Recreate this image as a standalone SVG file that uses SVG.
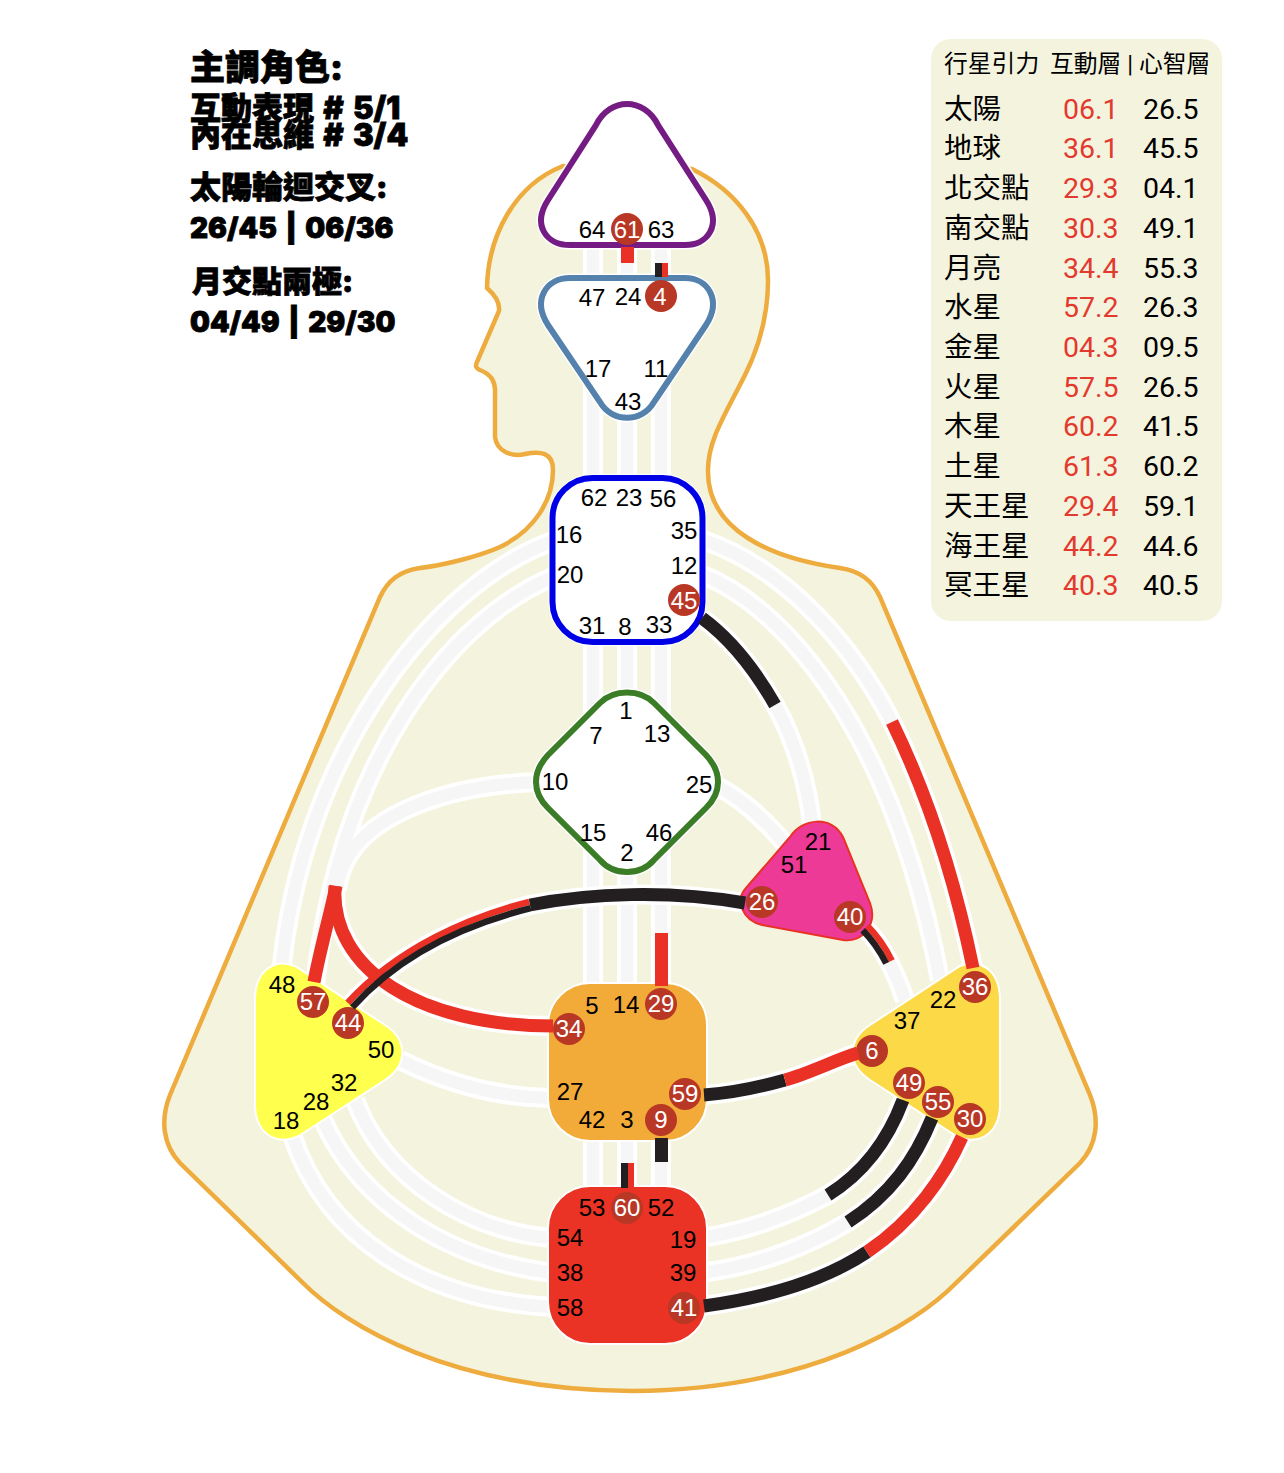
<svg xmlns="http://www.w3.org/2000/svg" width="1284" height="1473" viewBox="0 0 1284 1473">
<style>
.o{fill:none;stroke:#fff;stroke-width:20}
.g{fill:none;stroke:#f6f6f7;stroke-width:12.5}
.r{fill:none;stroke:#e93225;stroke-width:13}
.k{fill:none;stroke:#231f20;stroke-width:13}
.rh{fill:none;stroke:#e93225;stroke-width:6.5}
.kh{fill:none;stroke:#231f20;stroke-width:6.5}
text{font-family:"Liberation Sans","Noto Sans CJK TC",sans-serif}
.n{font-size:24px;fill:#000;text-anchor:middle}
.w{font-size:24px;fill:#fff;text-anchor:middle}
.d{fill:#b93825}
.h{font-family:Inter,"Noto Sans CJK TC",sans-serif;font-weight:900;fill:#000;stroke:#000;stroke-width:.8;word-spacing:3px}
.t{font-family:Roboto,"Noto Sans CJK TC",sans-serif;font-size:28.5px;fill:#000}
.tr{font-family:Roboto,"Noto Sans CJK TC",sans-serif;font-size:28.5px;fill:#e23a2e}
.th{font-family:Roboto,"Noto Sans CJK TC",sans-serif;font-size:23.8px;fill:#000}
</style>
<defs>
<path id="a" d="M553,541C430,585 300,760 281,975"/>
<path id="b" d="M553,577C450,620 340,760 315,985"/>
<path id="c" d="M538,782C450,785 345,815 337,890"/>
<path id="d" d="M335,886C330,970 420,1026 553,1026"/>
<path id="e" d="M350,1005C400,950 470,920 530,905C590,893 670,890 745,903"/>
<path id="f" d="M703,540C790,570 855,650 892,722C930,800 955,880 973,968"/>
<path id="h" d="M703,575C790,610 895,740 940,980"/>
<path id="i" d="M702,618C732,640 755,670 775,705C795,740 808,785 812,825"/>
<path id="j" d="M715,785C745,800 770,825 790,850"/>
<path id="k" d="M865,928C875,938 883,950 889,962C896,975 900,985 905,1000"/>
<path id="l" d="M400,1060C450,1085 500,1097 550,1098"/>
<path id="m" d="M355,1100C385,1180 470,1232 552,1238"/>
<path id="n" d="M322,1118C360,1205 450,1260 552,1273"/>
<path id="p" d="M292,1135C325,1235 420,1300 552,1307"/>
<path id="q" d="M703,1095C735,1093 760,1087 785,1080C810,1073 835,1060 858,1053"/>
<path id="s" d="M703,1306C770,1297 825,1280 867,1252C915,1220 945,1175 962,1137"/>
<path id="u" d="M707,1272C760,1265 810,1245 848,1222C890,1195 915,1160 932,1118"/>
<path id="v" d="M707,1237C750,1230 790,1215 828,1195C865,1172 888,1140 903,1100"/>
<path id="x" d="M593,240V1200"/>
<path id="y" d="M627,240V1200"/>
<path id="z" d="M661,240V1200"/>
<path id="pH" d="M596,125C610,97 644,97 658,125L706,200C722,225 708,245 685,245L570,245C546,245 532,225 548,200Z"/>
<path id="pA" d="M570,278L685,278C708,278 722,300 706,325L654,402C642,423 612,423 600,402L548,325C532,300 546,278 570,278Z"/>
<path id="pG" d="M600,703C614,689 640,689 654,703L706,755C722,772 722,792 706,808L654,860C640,876 614,876 600,860L548,808C532,792 532,772 548,755Z"/>
</defs>
<path id="body" d="M563,166C515,185 488,235 487,288C495,295 500,303 499,311L477,362Q474,368 480,370C490,374 496,380 495,395L495,437C497,452 512,457 525,454C540,451 553,452 553,470C553,500 535,530 500,547C480,556 445,565 420,568C400,571 388,580 380,597L170,1095C160,1120 163,1145 180,1163L303,1283C345,1325 450,1390 632,1391C810,1390 915,1325 956,1283L1080,1163C1097,1145 1100,1120 1090,1095L880,597C872,580 860,571 840,568C770,558 707,530 708,470C708,440 725,415 745,375C760,345 768,315 768,280C768,230 735,190 692,169Z" fill="#f4f3dd" stroke="#eeab3e" stroke-width="4.5"/>
<g id="connectors">
<use href="#a" class="o"/><use href="#b" class="o"/><use href="#c" class="o"/><use href="#d" class="o"/><use href="#f" class="o"/><use href="#h" class="o"/><use href="#i" class="o"/><use href="#j" class="o"/><use href="#k" class="o"/><use href="#l" class="o"/><use href="#m" class="o"/><use href="#n" class="o"/><use href="#p" class="o"/><use href="#q" class="o"/><use href="#s" class="o"/><use href="#u" class="o"/><use href="#v" class="o"/><use href="#x" class="o"/><use href="#y" class="o"/><use href="#z" class="o"/>
<use href="#a" class="g"/><use href="#b" class="g"/><use href="#c" class="g"/><use href="#f" class="g"/><use href="#h" class="g"/><use href="#i" class="g"/><use href="#j" class="g"/><use href="#k" class="g"/><use href="#l" class="g"/><use href="#m" class="g"/><use href="#n" class="g"/><use href="#p" class="g"/><use href="#u" class="g"/><use href="#v" class="g"/><use href="#x" class="g"/><use href="#y" class="g"/><use href="#z" class="g"/>
<use href="#e" class="o"/>
</g>
<g id="head"><use href="#pH" fill="#fff" stroke="#fff" stroke-width="9"/><use href="#pH" fill="#fff" stroke="#741b84" stroke-width="6"/>
<circle class="d" cx="627" cy="229" r="16"/><text class="n" x="592" y="238">64</text><text class="w" x="627" y="238">61</text><text class="n" x="661" y="238">63</text></g>
<g id="ajna"><use href="#pA" fill="#fff" stroke="#fff" stroke-width="9"/><use href="#pA" fill="#fff" stroke="#5581ad" stroke-width="6"/>
<circle class="d" cx="661" cy="296" r="16"/><text class="n" x="592" y="306">47</text><text class="n" x="628" y="305">24</text><text class="w" x="660" y="305">4</text><text class="n" x="598" y="377">17</text><text class="n" x="656" y="377">11</text><text class="n" x="628" y="410">43</text></g>
<g id="throat"><rect x="552.5" y="478" width="150" height="164" rx="40" fill="#fff" stroke="#fff" stroke-width="8"/><rect x="552.5" y="478" width="150" height="164" rx="40" fill="#fff" stroke="#0000e6" stroke-width="6"/>
<circle class="d" cx="684" cy="600" r="16"/><text class="n" x="594" y="506">62</text><text class="n" x="629" y="506">23</text><text class="n" x="663" y="507">56</text><text class="n" x="569" y="543">16</text><text class="n" x="684" y="539">35</text><text class="n" x="570" y="583">20</text><text class="n" x="684" y="574">12</text><text class="w" x="684" y="609">45</text><text class="n" x="592" y="634">31</text><text class="n" x="625" y="635">8</text><text class="n" x="659" y="633">33</text></g>
<g id="g-center"><use href="#pG" fill="#fff" stroke="#fff" stroke-width="9"/><use href="#pG" fill="#fff" stroke="#3a7d26" stroke-width="6"/>
<text class="n" x="626" y="719">1</text><text class="n" x="596" y="744">7</text><text class="n" x="657" y="742">13</text><text class="n" x="555" y="790">10</text><text class="n" x="699" y="793">25</text><text class="n" x="593" y="841">15</text><text class="n" x="659" y="841">46</text><text class="n" x="627" y="861">2</text></g>
<g id="heart"><path d="M790,837C802,818 832,815 843,837L870,903C878,925 862,943 843,940L762,925C742,920 735,900 746,888Z" fill="#ec3a96" stroke="#e93225" stroke-width="2"/>
<circle class="d" cx="762" cy="902" r="16"/><circle class="d" cx="850" cy="917" r="16"/><text class="n" x="818" y="850">21</text><text class="n" x="794" y="873">51</text><text class="w" x="762" y="910">26</text><text class="w" x="850" y="925">40</text></g>
<g id="spleen"><path d="M255,1000C255,970 275,958 295,966L385,1025C408,1040 408,1065 385,1080L305,1132C280,1150 255,1135 255,1105Z" fill="#ffff4d" stroke="#fff" stroke-width="2"/>
<circle class="d" cx="313" cy="1002" r="16"/><circle class="d" cx="348" cy="1023" r="16"/><text class="n" x="282" y="993">48</text><text class="w" x="313" y="1010">57</text><text class="w" x="348" y="1031">44</text><text class="n" x="381" y="1058">50</text><text class="n" x="344" y="1091">32</text><text class="n" x="316" y="1110">28</text><text class="n" x="286" y="1129">18</text></g>
<g id="solar-plexus"><path d="M1000,1000C1000,970 980,958 960,966L870,1025C847,1040 847,1065 870,1080L950,1132C975,1150 1000,1135 1000,1105Z" fill="#fbd947" stroke="#fff" stroke-width="2"/>
<circle class="d" cx="975" cy="987" r="16"/><circle class="d" cx="872" cy="1051" r="16"/><circle class="d" cx="909" cy="1083" r="16"/><circle class="d" cx="938" cy="1102" r="16"/><circle class="d" cx="970" cy="1119" r="16"/><text class="w" x="975" y="995">36</text><text class="n" x="943" y="1008">22</text><text class="n" x="907" y="1029">37</text><text class="w" x="872" y="1059">6</text><text class="w" x="909" y="1091">49</text><text class="w" x="938" y="1110">55</text><text class="w" x="970" y="1127">30</text></g>
<g id="sacral"><rect x="548" y="983" width="159" height="158" rx="42" fill="#f2aa38" stroke="#fff" stroke-width="2"/>
<circle class="d" cx="661" cy="1004" r="16"/><circle class="d" cx="569" cy="1029" r="16"/><circle class="d" cx="685" cy="1094" r="16"/><circle class="d" cx="661" cy="1120" r="16"/><text class="n" x="592" y="1014">5</text><text class="n" x="626" y="1013">14</text><text class="w" x="661" y="1012">29</text><text class="w" x="569" y="1037">34</text><text class="n" x="570" y="1100">27</text><text class="w" x="685" y="1102">59</text><text class="n" x="592" y="1128">42</text><text class="n" x="627" y="1128">3</text><text class="w" x="661" y="1128">9</text></g>
<g id="root"><rect x="548" y="1186" width="159" height="158" rx="42" fill="#ea3324" stroke="#fff" stroke-width="2"/>
<circle class="d" cx="627" cy="1208" r="16"/><circle class="d" cx="684" cy="1308" r="16"/><text class="n" x="592" y="1216">53</text><text class="w" x="627" y="1216">60</text><text class="n" x="661" y="1216">52</text><text class="n" x="570" y="1246">54</text><text class="n" x="683" y="1248">19</text><text class="n" x="570" y="1281">38</text><text class="n" x="683" y="1281">39</text><text class="n" x="570" y="1316">58</text><text class="w" x="684" y="1316">41</text></g>
<g id="connectors-active">
<path class="r" d="M336,886C330,915 320,950 314,982"/>
<use href="#d" class="r"/>
<path class="rh" d="M347.7,1002.7C398,948 469,917 529.2,901.8"/>
<path class="kh" d="M352.3,1007.3C402,952 471,923 530.8,908.2"/>
<path class="k" d="M530,905C590,893 670,890 745,903"/>
<path class="k" d="M702,618C732,640 755,670 775,705"/>
<path class="r" d="M892,722C930,800 955,880 973,968"/>
<path class="rh" d="M867.3,925.7C877.3,935.7 885.6,948 891.8,960.6"/>
<path class="kh" d="M862.7,930.3C872.7,940.3 880.4,952 886.2,963.4"/>
<path class="k" d="M704,1095C735,1093 760,1087 785,1080"/>
<path class="r" d="M785,1080C810,1073 835,1060 858,1053"/>
<path class="k" d="M704,1306C770,1297 825,1280 867,1252"/>
<path class="r" d="M867,1252C915,1220 945,1175 962,1137"/>
<path class="k" d="M848,1222C890,1195 915,1160 932,1118"/>
<path class="k" d="M828,1195C865,1172 888,1140 903,1100"/>
<rect x="621" y="247" width="13" height="16" fill="#e93225"/>
<rect x="655" y="263" width="7" height="14" fill="#231f20"/><rect x="662" y="263" width="6" height="14" fill="#e93225"/>
<rect x="655" y="933" width="13" height="53" fill="#e93225"/>
<rect x="655" y="1138" width="13" height="24" fill="#231f20"/>
<rect x="621" y="1163" width="7" height="25" fill="#231f20"/><rect x="628" y="1163" width="6" height="24" fill="#e93225"/>
</g>
<g id="title-text">
<text class="h" x="190" y="80" font-size="35">主調角色:</text>
<text class="h" x="190" y="119" font-size="31">互動表現 # 5/1</text>
<text class="h" x="190" y="146" font-size="31">內在思維 # 3/4</text>
<text class="h" x="190" y="198" font-size="31">太陽輪迴交叉:</text>
<text class="h" x="190" y="238" font-size="28">26/45 | 06/36</text>
<text class="h" x="192" y="292" font-size="30">月交點兩極:</text>
<text class="h" x="190" y="332" font-size="28">04/49 | 29/30</text>
</g>
<g id="planet-table">
<rect x="931" y="39" width="291" height="582" rx="20" fill="#f4f3de"/>
<text class="th" x="944" y="72">行星引力</text><text class="th" x="1050" y="72">互動層 | 心智層</text>
<text class="t" x="944" y="119">太陽</text><text class="tr" x="1063" y="119">06.1</text><text class="t" x="1143" y="119">26.5</text>
<text class="t" x="944" y="158">地球</text><text class="tr" x="1063" y="158">36.1</text><text class="t" x="1143" y="158">45.5</text>
<text class="t" x="944" y="198">北交點</text><text class="tr" x="1063" y="198">29.3</text><text class="t" x="1143" y="198">04.1</text>
<text class="t" x="944" y="238">南交點</text><text class="tr" x="1063" y="238">30.3</text><text class="t" x="1143" y="238">49.1</text>
<text class="t" x="944" y="278">月亮</text><text class="tr" x="1063" y="278">34.4</text><text class="t" x="1143" y="278">55.3</text>
<text class="t" x="944" y="317">水星</text><text class="tr" x="1063" y="317">57.2</text><text class="t" x="1143" y="317">26.3</text>
<text class="t" x="944" y="357">金星</text><text class="tr" x="1063" y="357">04.3</text><text class="t" x="1143" y="357">09.5</text>
<text class="t" x="944" y="397">火星</text><text class="tr" x="1063" y="397">57.5</text><text class="t" x="1143" y="397">26.5</text>
<text class="t" x="944" y="436">木星</text><text class="tr" x="1063" y="436">60.2</text><text class="t" x="1143" y="436">41.5</text>
<text class="t" x="944" y="476">土星</text><text class="tr" x="1063" y="476">61.3</text><text class="t" x="1143" y="476">60.2</text>
<text class="t" x="944" y="516">天王星</text><text class="tr" x="1063" y="516">29.4</text><text class="t" x="1143" y="516">59.1</text>
<text class="t" x="944" y="556">海王星</text><text class="tr" x="1063" y="556">44.2</text><text class="t" x="1143" y="556">44.6</text>
<text class="t" x="944" y="595">冥王星</text><text class="tr" x="1063" y="595">40.3</text><text class="t" x="1143" y="595">40.5</text>
</g>
</svg>
